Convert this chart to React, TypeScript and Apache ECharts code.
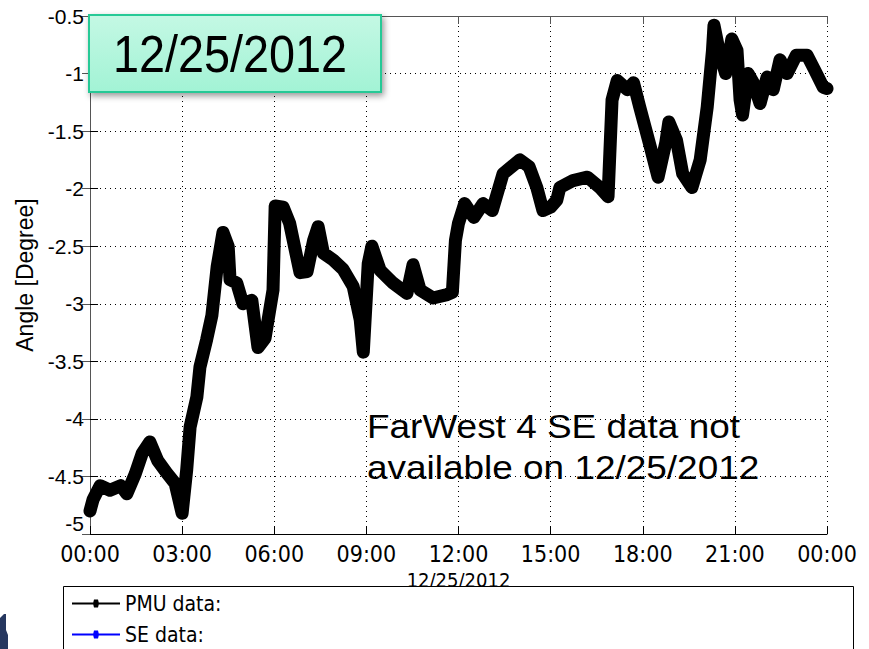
import React, { useEffect, useRef } from "react";
import * as echarts from "echarts";

const hours = [0, 0.1, 0.33, 0.65, 1.0, 1.2, 1.47, 1.7, 1.95, 2.2, 2.5, 2.77, 3.0, 3.15, 3.26, 3.48, 3.58, 3.8, 3.97, 4.14, 4.33, 4.5, 4.56, 4.78, 4.98, 5.27, 5.47, 5.7, 5.96, 6.03, 6.29, 6.5, 6.84, 7.07, 7.28, 7.43, 7.6, 7.92, 8.24, 8.57, 8.8, 8.9, 9.06, 9.18, 9.45, 9.87, 10.32, 10.52, 10.75, 11.17, 11.63, 11.8, 11.9, 12.0, 12.2, 12.5, 12.8, 13.1, 13.45, 14.0, 14.3, 14.55, 14.75, 15.0, 15.2, 15.3, 15.73, 16.2, 16.6, 16.87, 17.0, 17.17, 17.5, 17.7, 17.9, 18.25, 18.5, 18.75, 18.85, 19.1, 19.3, 19.6, 19.87, 20.1, 20.27, 20.32, 20.5, 20.7, 20.9, 21.07, 21.17, 21.25, 21.43, 21.6, 21.82, 22.05, 22.25, 22.47, 22.7, 23.0, 23.35, 23.6, 23.88, 24];

const pmuAngle = [-4.8, -4.7, -4.58, -4.62, -4.58, -4.65, -4.48, -4.3, -4.2, -4.36, -4.47, -4.56, -4.82, -4.44, -4.07, -3.81, -3.55, -3.31, -3.1, -2.68, -2.38, -2.5, -2.79, -2.82, -3.0, -2.97, -3.38, -3.3, -2.88, -2.15, -2.16, -2.3, -2.73, -2.72, -2.45, -2.33, -2.56, -2.62, -2.7, -2.85, -3.14, -3.42, -2.65, -2.5, -2.71, -2.82, -2.91, -2.66, -2.88, -2.95, -2.92, -2.9, -2.45, -2.3, -2.13, -2.25, -2.13, -2.19, -1.87, -1.75, -1.81, -1.99, -2.19, -2.16, -2.1, -1.99, -1.93, -1.9, -1.99, -2.07, -1.23, -1.06, -1.14, -1.08, -1.29, -1.64, -1.9, -1.6, -1.42, -1.58, -1.87, -1.99, -1.75, -1.29, -0.8, -0.58, -0.82, -1.0, -0.7, -0.8, -1.23, -1.36, -1.0, -1.08, -1.26, -1.03, -1.14, -0.88, -1.0, -0.84, -0.84, -0.97, -1.12, -1.13];

const seAngle: number[] = [];

const xTicks = ["00:00", "03:00", "06:00", "09:00", "12:00", "15:00", "18:00", "21:00", "00:00"];
const seriesNames = ["PMU data:", "SE data:"];
const dateLabel = "12/25/2012";
const noteLines = ["FarWest 4 SE data not", "available on 12/25/2012"];

const NARROW = "'Liberation Sans Narrow', 'Arial Narrow', 'DejaVu Sans Condensed', 'Liberation Sans', Arial, sans-serif";
const SANS = "'Liberation Sans', Arial, sans-serif";

export default function App() {
  const ref = useRef<HTMLDivElement>(null);
  useEffect(() => {
    if (!ref.current) return;
    const chart = echarts.init(ref.current, null, { renderer: "svg" });
    const pmuData = hours.map((h, i) => [h, pmuAngle[i]]);
    const seData = seAngle.map((v, i) => [hours[i], v]);
    const legendIcon = "path://M0,4L48,4L48,6L0,6Z M22,1L26,1L27,5L26,9L22,9L21,5Z";
    chart.setOption({
      animation: false,
      backgroundColor: "#fff",
      grid: { left: 90, right: 42, top: 16, bottom: 115, outerBoundsMode: "none", containLabel: false },
      xAxis: [
        {
          type: "value",
          min: 0,
          max: 24,
          interval: 3,
          position: "bottom",
          name: dateLabel,
          nameLocation: "middle",
          nameGap: 33,
          nameTextStyle: { fontFamily: NARROW, fontSize: 20, color: "#000" },
          axisLine: { show: true, lineStyle: { color: "#000", width: 1 } },
          axisTick: { show: true, inside: true, length: 8, lineStyle: { color: "#000" } },
          axisLabel: {
            fontFamily: NARROW,
            fontSize: 23,
            color: "#000",
            margin: 8,
            formatter: (v: number) => xTicks[Math.round(v / 3)] ?? "",
          },
          splitLine: { show: true, lineStyle: { color: "#000", type: [1, 4], width: 1 } },
        },
        {
          type: "value",
          min: 0,
          max: 24,
          interval: 3,
          position: "top",
          axisLine: { show: true, lineStyle: { color: "#555", width: 1 } },
          axisTick: { show: true, inside: true, length: 8, lineStyle: { color: "#555" } },
          axisLabel: { show: false },
          splitLine: { show: false },
        },
      ],
      yAxis: [
        {
          type: "value",
          min: -5,
          max: -0.5,
          interval: 0.5,
          position: "left",
          name: "Angle [Degree]",
          nameLocation: "middle",
          nameRotate: 90,
          nameGap: 52,
          nameTextStyle: { fontFamily: SANS, fontSize: 23, color: "#000" },
          axisLine: { show: true, lineStyle: { color: "#000", width: 1 } },
          axisTick: { show: true, inside: true, length: 8, lineStyle: { color: "#000" } },
          axisLabel: {
            fontFamily: SANS,
            fontSize: 21,
            color: "#000",
            margin: 6,
            verticalAlignMinLabel: "bottom",
          },
          splitLine: { show: true, lineStyle: { color: "#000", type: [1, 4], width: 1 } },
        },
        {
          type: "value",
          min: -5,
          max: -0.5,
          interval: 0.5,
          position: "right",
          axisLine: { show: true, lineStyle: { color: "#555", width: 1 } },
          axisTick: { show: true, inside: true, length: 8, lineStyle: { color: "#555" } },
          axisLabel: { show: false },
          splitLine: { show: false },
        },
      ],
      legend: {
        orient: "vertical",
        left: 72,
        top: 592,
        itemWidth: 48,
        itemHeight: 10,
        itemGap: 8,
        padding: 0,
        selectedMode: false,
        data: [
          { name: seriesNames[0], icon: legendIcon },
          { name: seriesNames[1], icon: legendIcon },
        ],
        textStyle: { fontFamily: NARROW, fontSize: 21, color: "#000", lineHeight: 23, padding: [0, 0, 0, 0] },
        z: 10,
      },
      series: [
        {
          name: seriesNames[0],
          type: "line",
          xAxisIndex: 0,
          yAxisIndex: 0,
          data: pmuData,
          showSymbol: false,
          color: "#000",
          lineStyle: { color: "#000", width: 13, join: "round", cap: "round" },
          clip: false,
          z: 3,
        },
        {
          name: seriesNames[1],
          type: "line",
          xAxisIndex: 0,
          yAxisIndex: 0,
          data: seData,
          showSymbol: false,
          color: "#0000ff",
          lineStyle: { color: "#0000ff", width: 2 },
        },
      ],
      graphic: [
        {
          type: "rect",
          z: 1,
          shape: { x: 63.5, y: 586.5, width: 790, height: 80 },
          style: { fill: "#fff", stroke: "#000", lineWidth: 1 },
        },
        {
          type: "polygon",
          z: 1,
          shape: { points: [[0, 618], [4, 614], [6, 614], [6, 630], [8, 635], [8, 649], [0, 649]] },
          style: { fill: "#26375f" },
        },
        {
          type: "rect",
          z: 20,
          shape: { x: 89, y: 15, width: 292, height: 77 },
          style: {
            fill: new echarts.graphic.LinearGradient(0, 0, 0, 1, [
              { offset: 0, color: "#c4f8e4" },
              { offset: 1, color: "#a2f3d5" },
            ]),
            stroke: "#25c996",
            lineWidth: 2,
            shadowBlur: 6,
            shadowOffsetX: 2,
            shadowOffsetY: 3,
            shadowColor: "rgba(0,0,0,0.4)",
          },
        },
        {
          type: "text",
          z: 21,
          x: 230,
          y: 54,
          scaleX: 0.9,
          style: {
            text: dateLabel,
            fontFamily: SANS,
            fontSize: 52,
            fill: "#000",
            align: "center",
            verticalAlign: "middle",
          },
        },
        {
          type: "text",
          z: 21,
          x: 367,
          y: 426,
          scaleX: 1.12,
          style: {
            text: noteLines[0],
            fontFamily: SANS,
            fontSize: 33,
            fill: "#000",
            align: "left",
            verticalAlign: "middle",
          },
        },
        {
          type: "text",
          z: 21,
          x: 367,
          y: 467,
          scaleX: 1.12,
          style: {
            text: noteLines[1],
            fontFamily: SANS,
            fontSize: 33,
            fill: "#000",
            align: "left",
            verticalAlign: "middle",
          },
        },
      ],
    });
    return () => chart.dispose();
  }, []);
  return (
    <div
      ref={ref}
      style={{ position: "fixed", left: 0, top: 0, width: 869, height: 649 }}
    />
  );
}
